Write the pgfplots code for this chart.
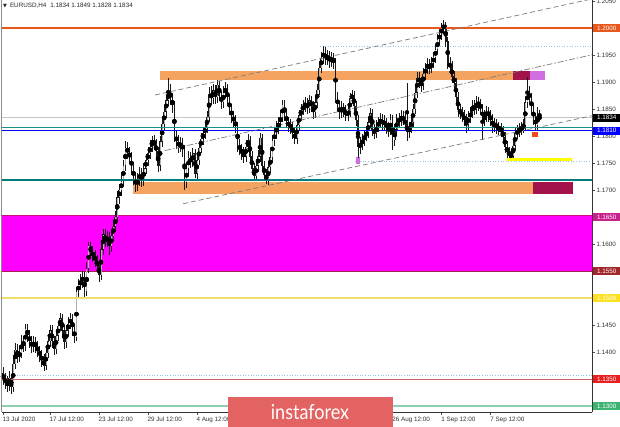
\documentclass[border=0pt]{standalone}
\usepackage{pgfplots}
\pgfplotsset{compat=1.18}
\usepackage{pgfplotstable}
\usepackage{fontspec}
\setmainfont{Liberation Sans}
\newfontfamily\dejavu{DejaVu Sans}
\newfontfamily\lato{Lato}
\definecolor{orred}{HTML}{E8581C}
\definecolor{sandy}{HTML}{F4A460}
\definecolor{crim}{HTML}{A3124A}
\definecolor{orch}{HTML}{D070E0}
\definecolor{tealc}{HTML}{007C7C}
\definecolor{teal2}{HTML}{14928A}
\definecolor{lblue}{HTML}{8CC8E0}
\definecolor{magz}{HTML}{FF00FF}
\definecolor{magedge}{HTML}{C8107C}
\definecolor{magedge2}{HTML}{A8204C}
\definecolor{ylw}{HTML}{FFFF00}
\definecolor{khaki}{HTML}{F0E068}
\definecolor{redln}{HTML}{C86464}
\definecolor{grnln}{HTML}{8ECFB2}
\definecolor{bannerc}{HTML}{E36262}
\definecolor{chan}{HTML}{7A7A7A}
\definecolor{lbl1650}{HTML}{C8208C}
\definecolor{lbl1550}{HTML}{A0282A}
\definecolor{lbl1500}{HTML}{FFE020}
\definecolor{lbl1350}{HTML}{E82020}
\definecolor{lbl1300}{HTML}{3CB371}
\definecolor{redsq}{HTML}{F04A1A}
\pgfplotstableread{
i o h l c
0 1.1360 1.1372 1.1338 1.1350
1 1.1350 1.1362 1.1332 1.1345
2 1.1345 1.1356 1.1326 1.1338
3 1.1338 1.1364 1.1328 1.1352
4 1.1352 1.1360 1.1322 1.1335
5 1.1335 1.1388 1.1326 1.1378
6 1.1378 1.1416 1.1368 1.1404
7 1.1404 1.1414 1.1380 1.1392
8 1.1392 1.1410 1.1382 1.1398
9 1.1398 1.1432 1.1388 1.1420
10 1.1420 1.1430 1.1400 1.1412
11 1.1412 1.1452 1.1402 1.1444
12 1.1444 1.1452 1.1418 1.1430
13 1.1430 1.1440 1.1408 1.1420
14 1.1420 1.1430 1.1398 1.1410
15 1.1410 1.1430 1.1400 1.1418
16 1.1418 1.1428 1.1398 1.1410
17 1.1410 1.1420 1.1390 1.1402
18 1.1402 1.1412 1.1382 1.1393
19 1.1393 1.1404 1.1372 1.1385
20 1.1385 1.1396 1.1364 1.1375
21 1.1375 1.1408 1.1366 1.1398
22 1.1398 1.1432 1.1388 1.1420
23 1.1420 1.1450 1.1410 1.1440
24 1.1440 1.1450 1.1408 1.1420
25 1.1420 1.1430 1.1394 1.1405
26 1.1405 1.1440 1.1396 1.1430
27 1.1430 1.1458 1.1420 1.1448
28 1.1448 1.1472 1.1438 1.1462
29 1.1462 1.1470 1.1428 1.1440
30 1.1440 1.1450 1.1406 1.1418
31 1.1418 1.1450 1.1408 1.1440
32 1.1440 1.1464 1.1430 1.1452
33 1.1452 1.1472 1.1442 1.1463
34 1.1463 1.1470 1.1430 1.1440
35 1.1440 1.1450 1.1416 1.1428
36 1.1428 1.1520 1.1420 1.1512
37 1.1512 1.1536 1.1500 1.1525
38 1.1525 1.1544 1.1514 1.1530
39 1.1530 1.1550 1.1518 1.1540
40 1.1540 1.1548 1.1500 1.1512
41 1.1512 1.1566 1.1504 1.1555
42 1.1555 1.1604 1.1546 1.1596
43 1.1596 1.1604 1.1574 1.1585
44 1.1585 1.1596 1.1566 1.1578
45 1.1578 1.1588 1.1558 1.1570
46 1.1570 1.1580 1.1548 1.1560
47 1.1560 1.1570 1.1530 1.1542
48 1.1542 1.1600 1.1534 1.1590
49 1.1590 1.1628 1.1580 1.1618
50 1.1618 1.1628 1.1594 1.1605
51 1.1605 1.1624 1.1594 1.1612
52 1.1612 1.1622 1.1580 1.1596
53 1.1596 1.1626 1.1586 1.1615
54 1.1615 1.1644 1.1606 1.1632
55 1.1632 1.1662 1.1622 1.1650
56 1.1650 1.1698 1.1642 1.1686
57 1.1686 1.1712 1.1674 1.1700
58 1.1700 1.1728 1.1688 1.1716
59 1.1716 1.1756 1.1706 1.1745
60 1.1745 1.1790 1.1736 1.1778
61 1.1778 1.1788 1.1758 1.1770
62 1.1770 1.1780 1.1748 1.1760
63 1.1760 1.1770 1.1728 1.1740
64 1.1740 1.1750 1.1710 1.1722
65 1.1722 1.1732 1.1696 1.1708
66 1.1708 1.1732 1.1698 1.1720
67 1.1720 1.1742 1.1708 1.1730
68 1.1730 1.1740 1.1706 1.1718
69 1.1718 1.1750 1.1708 1.1740
70 1.1740 1.1766 1.1730 1.1755
71 1.1755 1.1780 1.1744 1.1768
72 1.1768 1.1792 1.1758 1.1780
73 1.1780 1.1800 1.1770 1.1792
74 1.1792 1.1802 1.1774 1.1785
75 1.1785 1.1794 1.1760 1.1772
76 1.1772 1.1780 1.1734 1.1745
77 1.1745 1.1800 1.1736 1.1790
78 1.1790 1.1832 1.1780 1.1822
79 1.1822 1.1856 1.1812 1.1845
80 1.1845 1.1878 1.1834 1.1866
81 1.1866 1.1907 1.1856 1.1880
82 1.1880 1.1896 1.1858 1.1870
83 1.1870 1.1880 1.1842 1.1855
84 1.1855 1.1864 1.1788 1.1800
85 1.1800 1.1812 1.1776 1.1790
86 1.1790 1.1802 1.1768 1.1780
87 1.1780 1.1798 1.1770 1.1785
88 1.1785 1.1796 1.1762 1.1775
89 1.1775 1.1784 1.1700 1.1715
90 1.1715 1.1750 1.1704 1.1740
91 1.1740 1.1772 1.1730 1.1760
92 1.1760 1.1770 1.1740 1.1752
93 1.1752 1.1778 1.1742 1.1768
94 1.1768 1.1776 1.1722 1.1730
95 1.1730 1.1766 1.1721 1.1755
96 1.1755 1.1789 1.1746 1.1778
97 1.1778 1.1806 1.1768 1.1795
98 1.1795 1.1816 1.1784 1.1805
99 1.1805 1.1826 1.1794 1.1815
100 1.1815 1.1846 1.1806 1.1835
101 1.1835 1.1890 1.1826 1.1878
102 1.1878 1.1892 1.1858 1.1870
103 1.1870 1.1896 1.1860 1.1884
104 1.1884 1.1894 1.1860 1.1872
105 1.1872 1.1904 1.1862 1.1895
106 1.1895 1.1902 1.1864 1.1875
107 1.1875 1.1884 1.1850 1.1862
108 1.1862 1.1892 1.1852 1.1880
109 1.1880 1.1900 1.1870 1.1888
110 1.1888 1.1896 1.1856 1.1866
111 1.1866 1.1876 1.1838 1.1850
112 1.1850 1.1860 1.1824 1.1836
113 1.1836 1.1846 1.1816 1.1828
114 1.1828 1.1838 1.1806 1.1818
115 1.1818 1.1826 1.1770 1.1782
116 1.1782 1.1794 1.1764 1.1775
117 1.1775 1.1786 1.1756 1.1768
118 1.1768 1.1780 1.1750 1.1762
119 1.1762 1.1792 1.1752 1.1780
120 1.1780 1.1804 1.1770 1.1792
121 1.1792 1.1800 1.1751 1.1762
122 1.1762 1.1772 1.1728 1.1740
123 1.1740 1.1750 1.1716 1.1726
124 1.1726 1.1756 1.1716 1.1745
125 1.1745 1.1774 1.1734 1.1762
126 1.1762 1.1806 1.1752 1.1796
127 1.1796 1.1804 1.1734 1.1745
128 1.1745 1.1754 1.1716 1.1728
129 1.1728 1.1738 1.1711 1.1718
130 1.1718 1.1752 1.1710 1.1742
131 1.1742 1.1772 1.1732 1.1760
132 1.1760 1.1802 1.1750 1.1792
133 1.1792 1.1816 1.1782 1.1805
134 1.1805 1.1828 1.1794 1.1816
135 1.1816 1.1836 1.1804 1.1825
136 1.1825 1.1848 1.1814 1.1835
137 1.1835 1.1866 1.1826 1.1858
138 1.1858 1.1866 1.1828 1.1840
139 1.1840 1.1850 1.1814 1.1825
140 1.1825 1.1836 1.1808 1.1820
141 1.1820 1.1832 1.1804 1.1816
142 1.1816 1.1826 1.1794 1.1805
143 1.1805 1.1814 1.1785 1.1795
144 1.1795 1.1830 1.1786 1.1820
145 1.1820 1.1849 1.1810 1.1838
146 1.1838 1.1859 1.1828 1.1848
147 1.1848 1.1866 1.1838 1.1855
148 1.1855 1.1872 1.1844 1.1860
149 1.1860 1.1870 1.1841 1.1852
150 1.1852 1.1876 1.1842 1.1866
151 1.1866 1.1874 1.1844 1.1855
152 1.1855 1.1864 1.1832 1.1844
153 1.1844 1.1872 1.1834 1.1862
154 1.1862 1.1896 1.1852 1.1885
155 1.1885 1.1936 1.1876 1.1926
156 1.1926 1.1956 1.1916 1.1945
157 1.1945 1.1966 1.1934 1.1955
158 1.1955 1.1964 1.1931 1.1942
159 1.1942 1.1960 1.1932 1.1948
160 1.1948 1.1958 1.1926 1.1938
161 1.1938 1.1956 1.1928 1.1945
162 1.1945 1.1954 1.1924 1.1935
163 1.1935 1.1944 1.1862 1.1872
164 1.1872 1.1882 1.1844 1.1855
165 1.1855 1.1864 1.1832 1.1843
166 1.1843 1.1864 1.1834 1.1852
167 1.1852 1.1862 1.1836 1.1848
168 1.1848 1.1858 1.1828 1.1838
169 1.1838 1.1856 1.1828 1.1845
170 1.1845 1.1880 1.1836 1.1870
171 1.1870 1.1886 1.1860 1.1876
172 1.1876 1.1884 1.1844 1.1855
173 1.1855 1.1864 1.1818 1.1830
174 1.1830 1.1838 1.1759 1.1780
175 1.1780 1.1798 1.1766 1.1785
176 1.1785 1.1804 1.1774 1.1793
177 1.1793 1.1812 1.1782 1.1800
178 1.1800 1.1818 1.1790 1.1806
179 1.1806 1.1836 1.1796 1.1825
180 1.1825 1.1852 1.1814 1.1842
181 1.1842 1.1850 1.1800 1.1812
182 1.1812 1.1822 1.1794 1.1805
183 1.1805 1.1829 1.1796 1.1818
184 1.1818 1.1836 1.1808 1.1825
185 1.1825 1.1842 1.1814 1.1830
186 1.1830 1.1840 1.1811 1.1822
187 1.1822 1.1838 1.1811 1.1826
188 1.1826 1.1834 1.1804 1.1815
189 1.1815 1.1826 1.1798 1.1810
190 1.1810 1.1840 1.1801 1.1830
191 1.1830 1.1838 1.1774 1.1792
192 1.1792 1.1822 1.1782 1.1812
193 1.1812 1.1840 1.1802 1.1830
194 1.1830 1.1842 1.1816 1.1828
195 1.1828 1.1848 1.1818 1.1836
196 1.1836 1.1846 1.1820 1.1830
197 1.1830 1.1840 1.1811 1.1822
198 1.1822 1.1898 1.1790 1.1808
199 1.1808 1.1826 1.1796 1.1815
200 1.1815 1.1838 1.1806 1.1826
201 1.1826 1.1860 1.1816 1.1850
202 1.1850 1.1892 1.1840 1.1880
203 1.1880 1.1918 1.1870 1.1908
204 1.1908 1.1918 1.1888 1.1900
205 1.1900 1.1910 1.1882 1.1895
206 1.1895 1.1926 1.1886 1.1915
207 1.1915 1.1936 1.1904 1.1925
208 1.1925 1.1944 1.1914 1.1933
209 1.1933 1.1942 1.1914 1.1926
210 1.1926 1.1946 1.1916 1.1935
211 1.1935 1.1956 1.1926 1.1946
212 1.1946 1.1970 1.1936 1.1960
213 1.1960 1.1989 1.1951 1.1978
214 1.1978 1.1999 1.1968 1.1988
215 1.1988 1.2010 1.1978 1.2000
216 1.2000 1.2015 1.1988 1.2005
217 1.2005 1.2012 1.1964 1.1975
218 1.1975 1.1984 1.1924 1.1935
219 1.1935 1.1946 1.1916 1.1928
220 1.1928 1.1938 1.1898 1.1910
221 1.1910 1.1920 1.1886 1.1898
222 1.1898 1.1908 1.1861 1.1872
223 1.1872 1.1882 1.1836 1.1848
224 1.1848 1.1860 1.1832 1.1843
225 1.1843 1.1854 1.1826 1.1838
226 1.1838 1.1849 1.1818 1.1830
227 1.1830 1.1840 1.1806 1.1822
228 1.1822 1.1846 1.1812 1.1835
229 1.1835 1.1854 1.1824 1.1843
230 1.1843 1.1866 1.1834 1.1856
231 1.1856 1.1866 1.1838 1.1850
232 1.1850 1.1874 1.1841 1.1862
233 1.1862 1.1872 1.1846 1.1858
234 1.1858 1.1868 1.1841 1.1852
235 1.1852 1.1860 1.1793 1.1830
236 1.1830 1.1849 1.1818 1.1838
237 1.1838 1.1856 1.1826 1.1845
238 1.1845 1.1854 1.1826 1.1838
239 1.1838 1.1848 1.1818 1.1830
240 1.1830 1.1840 1.1806 1.1818
241 1.1818 1.1834 1.1808 1.1822
242 1.1822 1.1832 1.1804 1.1816
243 1.1816 1.1826 1.1802 1.1814
244 1.1814 1.1824 1.1798 1.1810
245 1.1810 1.1819 1.1786 1.1798
246 1.1798 1.1808 1.1768 1.1780
247 1.1780 1.1790 1.1760 1.1770
248 1.1770 1.1780 1.1757 1.1765
249 1.1765 1.1776 1.1756 1.1762
250 1.1762 1.1792 1.1757 1.1782
251 1.1782 1.1816 1.1772 1.1805
252 1.1805 1.1820 1.1794 1.1808
253 1.1808 1.1824 1.1798 1.1812
254 1.1812 1.1826 1.1802 1.1815
255 1.1815 1.1832 1.1806 1.1820
256 1.1820 1.1872 1.1811 1.1862
257 1.1862 1.1909 1.1852 1.1880
258 1.1880 1.1892 1.1858 1.1870
259 1.1870 1.1880 1.1838 1.1850
260 1.1850 1.1860 1.1820 1.1832
261 1.1832 1.1842 1.1810 1.1820
262 1.1820 1.1854 1.1812 1.1838
263 1.1834 1.1849 1.1828 1.1834
}\candles
\begin{document}
\begin{tikzpicture}
\useasboundingbox (0,0) rectangle (620pt,427pt);
\fill[white] (0,0) rectangle (620pt,427pt);
\begin{axis}[
  at={(2pt,427pt)}, anchor=north west,
  scale only axis, width=590pt, height=412pt,
  xmin=-0.49, xmax=288.7, ymin=1.12889, ymax=1.20519,
  axis x line*=bottom, axis y line*=right,
  axis line style={color=black!80, line width=0.6pt, -},
  tick align=outside, major tick length=3pt,
  tick style={color=black!70, line width=0.5pt},
  /pgf/number format/assume math mode=true,
  xtick={0,23,47,71,95,119,143,167,191,215,239},
  xticklabels={13 Jul 2020,17 Jul 12:00,23 Jul 12:00,29 Jul 12:00,4 Aug 12:00,,,,26 Aug 12:00,1 Sep 12:00,7 Sep 12:00},
  xticklabel style={anchor=north west, font=\fontsize{6.3}{7}\selectfont, text=black!80, inner sep=1pt, xshift=-1.5pt, yshift=-0.5pt},
  ytick={1.14,1.145,1.16,1.17,1.175,1.18,1.185,1.19,1.195,1.205},
  yticklabels={1.1400,1.1450,1.1600,1.1700,1.1750,1.1800,1.1850,1.1900,1.1950,1.2050},
  yticklabel style={anchor=west, font=\fontsize{6.3}{7}\selectfont, text=black!80, inner sep=1pt, xshift=0.5pt},
]
% zones
\addplot[draw=none, fill=magz, forget plot] coordinates {(-1,1.1550) (290,1.1550) (290,1.1652) (-1,1.1652)};
\addplot[magedge, line width=1pt, forget plot] coordinates {(-1,1.1652) (290,1.1652)};
\addplot[magedge2, line width=1pt, forget plot] coordinates {(-1,1.1550) (290,1.1550)};
\addplot[draw=none, fill=sandy, forget plot] coordinates {(77.0,1.1904) (250.0,1.1904) (250.0,1.1920) (77.0,1.1920)};
\addplot[draw=none, fill=crim, forget plot] coordinates {(250.0,1.1904) (258.3,1.1904) (258.3,1.1920) (250.0,1.1920)};
\addplot[draw=none, fill=orch, forget plot] coordinates {(258.3,1.1904) (265.7,1.1904) (265.7,1.1920) (258.3,1.1920)};
\addplot[draw=none, fill=sandy, forget plot] coordinates {(63.7,1.16926) (259.8,1.16926) (259.8,1.17148) (63.7,1.17148)};
\addplot[draw=none, fill=crim, forget plot] coordinates {(259.8,1.16926) (279.4,1.16926) (279.4,1.17148) (259.8,1.17148)};
% horizontal lines behind candles
\addplot[black!22, line width=0.5pt, forget plot] coordinates {(-1,1.1834) (290,1.1834)};
\addplot[lblue, dotted, line width=0.6pt, forget plot] coordinates {(155.4,1.1967) (290,1.1967)};
\addplot[lblue, dotted, line width=0.6pt, forget plot] coordinates {(172.5,1.1754) (290,1.1754)};
\addplot[lblue, dotted, line width=0.6pt, forget plot] coordinates {(-1,1.13574) (290,1.13574)};
\addplot[draw=none, fill=orch, forget plot] coordinates {(173.0,1.1748) (175.0,1.1748) (175.0,1.1762) (173.0,1.1762)};
% candles: wicks
\addplot[only marks, mark=none, forget plot, error bars/.cd, y dir=both, y explicit, error mark=none,
  error bar style={line width=0.55pt, color=black!90}]
  table[x=i, y expr={0.5*(\thisrow{h}+\thisrow{l})}, y error expr={0.5*(\thisrow{h}-\thisrow{l})}] {\candles};
% bodies
\addplot[only marks, mark=none, forget plot, error bars/.cd, y dir=both, y explicit, error mark=none,
  error bar style={line width=1.6pt, color=black!90}]
  table[x=i, y expr={0.5*(\thisrow{o}+\thisrow{c})}, y error expr={0.5*abs(\thisrow{c}-\thisrow{o})+0.00003}] {\candles};
% bull bodies hollow
\addplot[only marks, mark=none, forget plot, error bars/.cd, y dir=both, y explicit, error mark=none,
  error bar style={line width=0.45pt, color=white!70!black}]
  table[x=i, y expr={0.5*(\thisrow{o}+\thisrow{c})}, y error expr={max(0,0.5*(\thisrow{c}-\thisrow{o})-0.00006)}] {\candles};
% foreground lines
\addplot[orred, line width=2pt, forget plot] coordinates {(-1,1.2000) (290,1.2000)};
\addplot[teal2, line width=1.3pt, forget plot] coordinates {(-1,1.1816) (290,1.1816)};
\addplot[blue, line width=1.7pt, forget plot] coordinates {(-1,1.1810) (290,1.1810)};
\addplot[tealc, line width=2.6pt, forget plot] coordinates {(-1,1.17185) (290,1.17185)};
\addplot[khaki, line width=1.3pt, forget plot] coordinates {(-1,1.1500) (290,1.1500)};
\addplot[redln, line width=1pt, forget plot] coordinates {(-1,1.1350) (290,1.1350)};
\addplot[grnln, line width=1.6pt, forget plot] coordinates {(-1,1.1300) (290,1.1300)};
\addplot[ylw, line width=3pt, forget plot] coordinates {(247.1,1.1757) (278.9,1.1757)};
\addplot[draw=none, fill=redsq, forget plot] coordinates {(259.3,1.1799) (262.3,1.1799) (262.3,1.1808) (259.3,1.1808)};
% channel
\addplot[chan, line width=0.7pt, dash pattern=on 5pt off 3pt, forget plot] coordinates {(74.5,1.18759) (288.7,1.20539)};
\addplot[chan, line width=0.7pt, dash pattern=on 6pt off 2pt on 1.5pt off 2pt, forget plot] coordinates {(79.4,1.17731) (288.7,1.19504)};
\addplot[chan, line width=0.7pt, dash pattern=on 5pt off 3pt, forget plot] coordinates {(88.2,1.16746) (288.7,1.18376)};
% label anchors
\coordinate (p2000) at (axis cs:288.7,1.2000);
\coordinate (p1834) at (axis cs:288.7,1.1834);
\coordinate (p1810) at (axis cs:288.7,1.1810);
\coordinate (p1650) at (axis cs:288.7,1.1650);
\coordinate (p1550) at (axis cs:288.7,1.1550);
\coordinate (p1500) at (axis cs:288.7,1.1500);
\coordinate (p1350) at (axis cs:288.7,1.1350);
\coordinate (p1300) at (axis cs:288.7,1.1300);
\end{axis}
% left frame edge
\draw[black!45, line width=1.2pt] (1.6pt,15pt) -- (1.6pt,427pt);
\tikzset{lbl/.style={anchor=west, xshift=1pt, minimum width=27pt, minimum height=8pt, inner sep=0pt, font=\fontsize{6.3}{7}\selectfont, text=white}}
\node[lbl, fill=orred] at (p2000) {1.2000};
\node[lbl, fill=black] at (p1834) {1.1834};
\node[lbl, fill=blue] at (p1810) {1.1810};
\node[lbl, fill=lbl1650] at (p1650) {1.1650};
\node[lbl, fill=lbl1550] at (p1550) {1.1550};
\node[lbl, fill=lbl1500] at (p1500) {1.1500};
\node[lbl, fill=lbl1350] at (p1350) {1.1350};
\node[lbl, fill=lbl1300] at (p1300) {1.1300};
% title
\node[anchor=west, inner sep=0pt, font=\fontsize{6.3}{7}\selectfont, text=black!85] at (3pt,421pt) {{\dejavu\fontsize{5}{6}\selectfont ▼}\hspace{3pt}EURUSD,H4\hspace{4pt}1.1834 1.1849 1.1828 1.1834};
% banner
\fill[bannerc] (228pt,0pt) rectangle (393pt,30pt);
\node[anchor=base, inner sep=0pt, text=white, font=\lato\fontsize{18}{18}\selectfont] at (310pt,7pt) {\scalebox{1}[1.15]{instaforex}};
\end{tikzpicture}
\end{document}
